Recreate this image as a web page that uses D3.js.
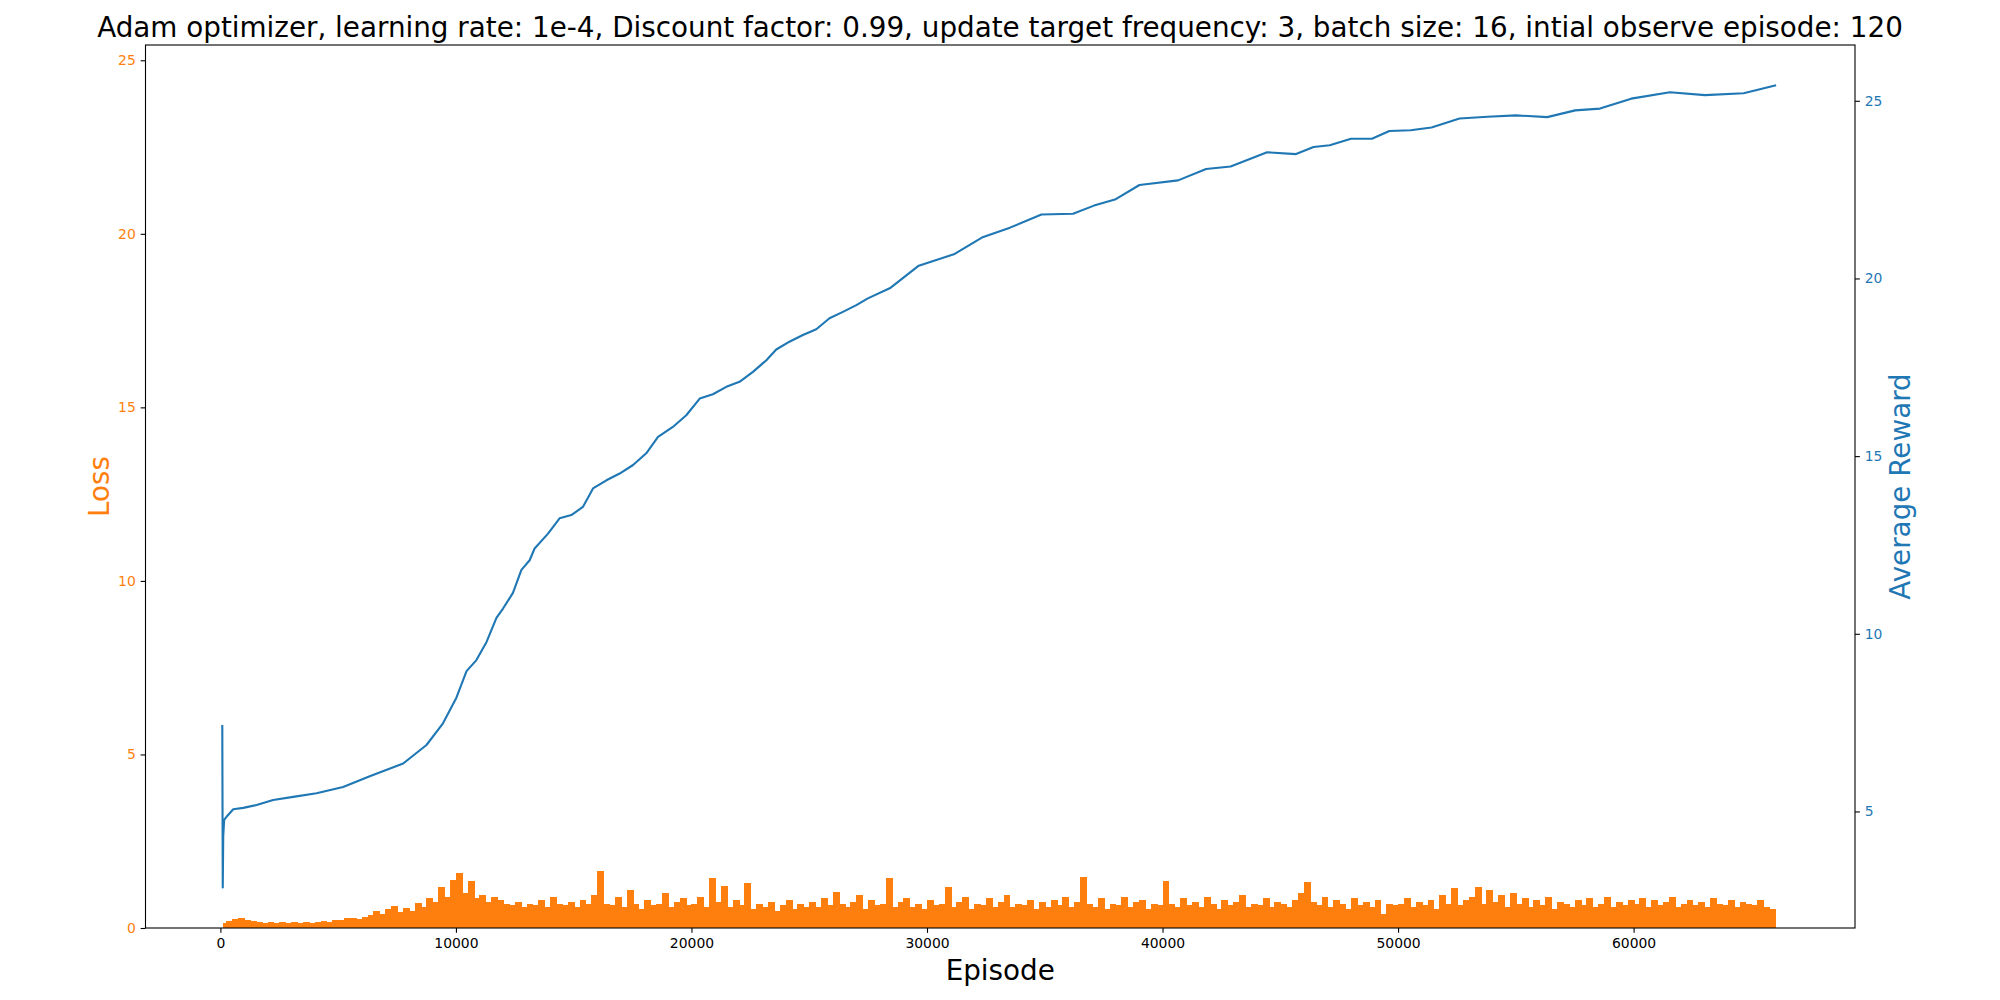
<!DOCTYPE html>
<html>
<head>
<meta charset="utf-8">
<script src="https://cdn.jsdelivr.net/npm/d3@7"></script>
<style>
  body { margin: 0; background: #fff; }
  svg text { font-family: "DejaVu Sans", sans-serif; }
</style>
</head>
<body>
<div id="vis"></div>
<script>
var title = "Adam optimizer, learning rate: 1e-4, Discount factor: 0.99, update target frequency: 3, batch size: 16, intial observe episode: 120";

var xTicks = [0, 10000, 20000, 30000, 40000, 50000, 60000];
var lossTicks = [0, 5, 10, 15, 20, 25];
var rewardTicks = [5, 10, 15, 20, 25];

// loss per 250-episode bin, first bin starts at the observe episode
var lossBinSize = 250;
var lossFirstEpisode = 120;
var lossValues = [
  0.15, 0.2, 0.25, 0.3, 0.22, 0.2, 0.18, 0.15, 0.17, 0.14, 0.16, 0.13, 0.18, 0.15, 0.17, 0.14, 0.16, 0.2, 0.18, 0.24,
  0.22, 0.28, 0.3, 0.25, 0.32, 0.38, 0.5, 0.4, 0.55, 0.63, 0.45, 0.58, 0.5, 0.73, 0.6, 0.85, 0.75, 1.19, 0.9, 1.38,
  1.58, 1.0, 1.36, 0.85, 0.95, 0.75, 0.9, 0.8, 0.7, 0.65, 0.75, 0.6, 0.7, 0.65, 0.8, 0.6, 0.9, 0.7, 0.65, 0.75,
  0.6, 0.8, 0.7, 0.95, 1.65, 0.7, 0.65, 0.9, 0.6, 1.1, 0.7, 0.55, 0.8, 0.65, 0.7, 1.0, 0.6, 0.75, 0.85, 0.65,
  0.7, 0.9, 0.6, 1.43, 0.75, 1.2, 0.6, 0.8, 0.65, 1.29, 0.55, 0.7, 0.6, 0.75, 0.5, 0.65, 0.8, 0.55, 0.7, 0.6,
  0.75, 0.6, 0.85, 0.65, 1.05, 0.7, 0.6, 0.75, 0.95, 0.55, 0.8, 0.65, 0.7, 1.43, 0.6, 0.75, 0.85, 0.6, 0.7, 0.55,
  0.8, 0.65, 0.7, 1.18, 0.6, 0.75, 0.9, 0.55, 0.7, 0.65, 0.85, 0.6, 0.75, 0.95, 0.6, 0.7, 0.65, 0.8, 0.55, 0.75,
  0.6, 0.8, 0.65, 0.9, 0.6, 0.75, 1.47, 0.7, 0.6, 0.85, 0.55, 0.7, 0.65, 0.9, 0.6, 0.75, 0.8, 0.55, 0.7, 0.65,
  1.36, 0.7, 0.6, 0.85, 0.65, 0.75, 0.6, 0.9, 0.7, 0.55, 0.8, 0.65, 0.75, 0.95, 0.6, 0.7, 0.65, 0.85, 0.6, 0.75,
  0.7, 0.6, 0.8, 1.0, 1.32, 0.75, 0.65, 0.9, 0.6, 0.8, 0.7, 0.55, 0.85, 0.65, 0.75, 0.6, 0.8, 0.4, 0.7, 0.65,
  0.7, 0.85, 0.6, 0.75, 0.65, 0.8, 0.55, 0.95, 0.7, 1.15, 0.65, 0.8, 0.9, 1.18, 0.7, 1.1, 0.75, 0.95, 0.6, 1.0,
  0.7, 0.85, 0.6, 0.8, 0.65, 0.9, 0.55, 0.75, 0.7, 0.6, 0.8, 0.65, 0.85, 0.6, 0.7, 0.9, 0.6, 0.75, 0.65, 0.8,
  0.7, 0.85, 0.6, 0.8, 0.65, 0.75, 0.9, 0.6, 0.7, 0.8, 0.65, 0.75, 0.6, 0.85, 0.7, 0.65, 0.8, 0.6, 0.75, 0.7,
  0.65, 0.8, 0.6, 0.55
];
var lossLastEpisode = 66050;

var rewardEpisodes = [80, 100, 120, 160, 260, 545, 970, 1535, 2240, 3090, 4080, 5210, 6340, 7760, 8750,
  9450, 10020, 10450, 10870, 11300, 11720, 12000, 12420, 12780, 13130, 13340, 13910, 14400, 14900, 15390,
  15820, 16390, 16950, 17520, 18080, 18580, 19210, 19780, 20350, 20910, 21480, 22040, 22610, 23180, 23600,
  24160, 24730, 25300, 25860, 26430, 27000, 27490, 28460, 29650, 31140, 32330, 33520, 34860, 36200, 37090,
  37980, 39020, 40660, 41850, 42890, 44440, 45670, 46410, 47100, 48000, 48890, 49630, 50530, 51420, 52610,
  53800, 55000, 56330, 57520, 58570, 59900, 61540, 63030, 64670, 66050];
var rewardValues = [7.43, 2.86, 4.3, 4.76, 4.85, 5.06, 5.10, 5.18, 5.32, 5.41, 5.51, 5.69, 5.99, 6.35, 6.87,
  7.48, 8.2, 8.95, 9.26, 9.77, 10.45, 10.71, 11.15, 11.8, 12.07, 12.4, 12.82, 13.25, 13.34, 13.57,
  14.09, 14.32, 14.51, 14.75, 15.08, 15.54, 15.82, 16.15, 16.62, 16.74, 16.95, 17.09, 17.37, 17.70, 18.0,
  18.22, 18.41, 18.57, 18.88, 19.06, 19.25, 19.44, 19.74, 20.36, 20.68, 21.15, 21.43, 21.80, 21.82, 22.05,
  22.22, 22.63, 22.76, 23.08, 23.15, 23.55, 23.50, 23.70, 23.75, 23.93, 23.93, 24.15, 24.17, 24.25, 24.50,
  24.55, 24.59, 24.54, 24.73, 24.78, 25.06, 25.24, 25.16, 25.21, 25.44];

var orange = "#ff7f0e", blue = "#1f77b4";
var tickLen = 4.86, tickPad = 4.86, tickFont = "13.9px", labelFont = "27.8px";

var margin = {top: 45, right: 145, bottom: 72, left: 145.5};
var width = 2000 - margin.left - margin.right,
    height = 1000 - margin.top - margin.bottom;

var svg = d3.select("div#vis")
  .append("svg")
  .attr("width", 2000)
  .attr("height", 1000);

var g = svg.append("g")
  .attr("transform", "translate(" + margin.left + "," + margin.top + ")");

var x = d3.scaleLinear().domain([-3180, 69400]).range([0, width]);
var yLoss = d3.scaleLinear().domain([0, 25.44]).range([height, 0]);
var yReward = d3.scaleLinear().domain([1.72, 26.57]).range([height, 0]);

// loss bars
var bins = lossValues.map(function(v, i) {
  var start = Math.max(i * lossBinSize, lossFirstEpisode);
  var end = Math.min((i + 1) * lossBinSize, lossLastEpisode);
  return {start: start, end: end, loss: v};
});

g.append("g")
  .attr("shape-rendering", "crispEdges")
  .selectAll("rect")
  .data(bins)
  .enter().append("rect")
  .attr("x", function(d) { return x(d.start); })
  .attr("width", function(d) { return x(d.end) - x(d.start) + 1; })
  .attr("y", function(d) { return yLoss(d.loss); })
  .attr("height", function(d) { return yLoss(0) - yLoss(d.loss); })
  .attr("fill", orange);

// reward line
var line = d3.line()
  .x(function(d) { return x(d[0]); })
  .y(function(d) { return yReward(d[1]); });

g.append("path")
  .datum(rewardEpisodes.map(function(e, i) { return [e, rewardValues[i]]; }))
  .attr("fill", "none")
  .attr("stroke", blue)
  .attr("stroke-width", 2.1)
  .attr("stroke-linejoin", "round")
  .attr("d", line);

// axes
function styleAxis(sel, color) {
  sel.select(".domain").remove();
  sel.selectAll(".tick line").attr("stroke", "#000").attr("stroke-width", 1.1);
  sel.selectAll(".tick text")
    .attr("fill", color)
    .style("font-size", tickFont)
    .style("font-family", "DejaVu Sans");
}

g.append("g")
  .attr("transform", "translate(0," + height + ")")
  .call(d3.axisBottom(x).tickValues(xTicks).tickFormat(d3.format("d")).tickSize(tickLen).tickPadding(tickPad))
  .call(styleAxis, "#000");

g.append("g")
  .call(d3.axisLeft(yLoss).tickValues(lossTicks).tickFormat(d3.format("d")).tickSize(tickLen).tickPadding(tickPad))
  .call(styleAxis, orange);

g.append("g")
  .attr("transform", "translate(" + width + ",0)")
  .call(d3.axisRight(yReward).tickValues(rewardTicks).tickFormat(d3.format("d")).tickSize(tickLen).tickPadding(tickPad))
  .call(styleAxis, blue);

// frame
g.append("rect")
  .attr("width", width)
  .attr("height", height)
  .attr("fill", "none")
  .attr("stroke", "#000")
  .attr("stroke-width", 1.1);

// titles
svg.append("text")
  .attr("x", 1000)
  .attr("y", 37)
  .attr("text-anchor", "middle")
  .style("font-size", labelFont)
  .text(title);

svg.append("text")
  .attr("x", margin.left + width / 2)
  .attr("y", 980)
  .attr("text-anchor", "middle")
  .style("font-size", labelFont)
  .text("Episode");

svg.append("text")
  .attr("transform", "translate(109," + (margin.top + height / 2) + ") rotate(-90)")
  .attr("text-anchor", "middle")
  .attr("fill", orange)
  .style("font-size", labelFont)
  .text("Loss");

svg.append("text")
  .attr("transform", "translate(1910," + (margin.top + height / 2) + ") rotate(-90)")
  .attr("text-anchor", "middle")
  .attr("fill", blue)
  .style("font-size", labelFont)
  .text("Average Reward");
</script>
</body>
</html>
